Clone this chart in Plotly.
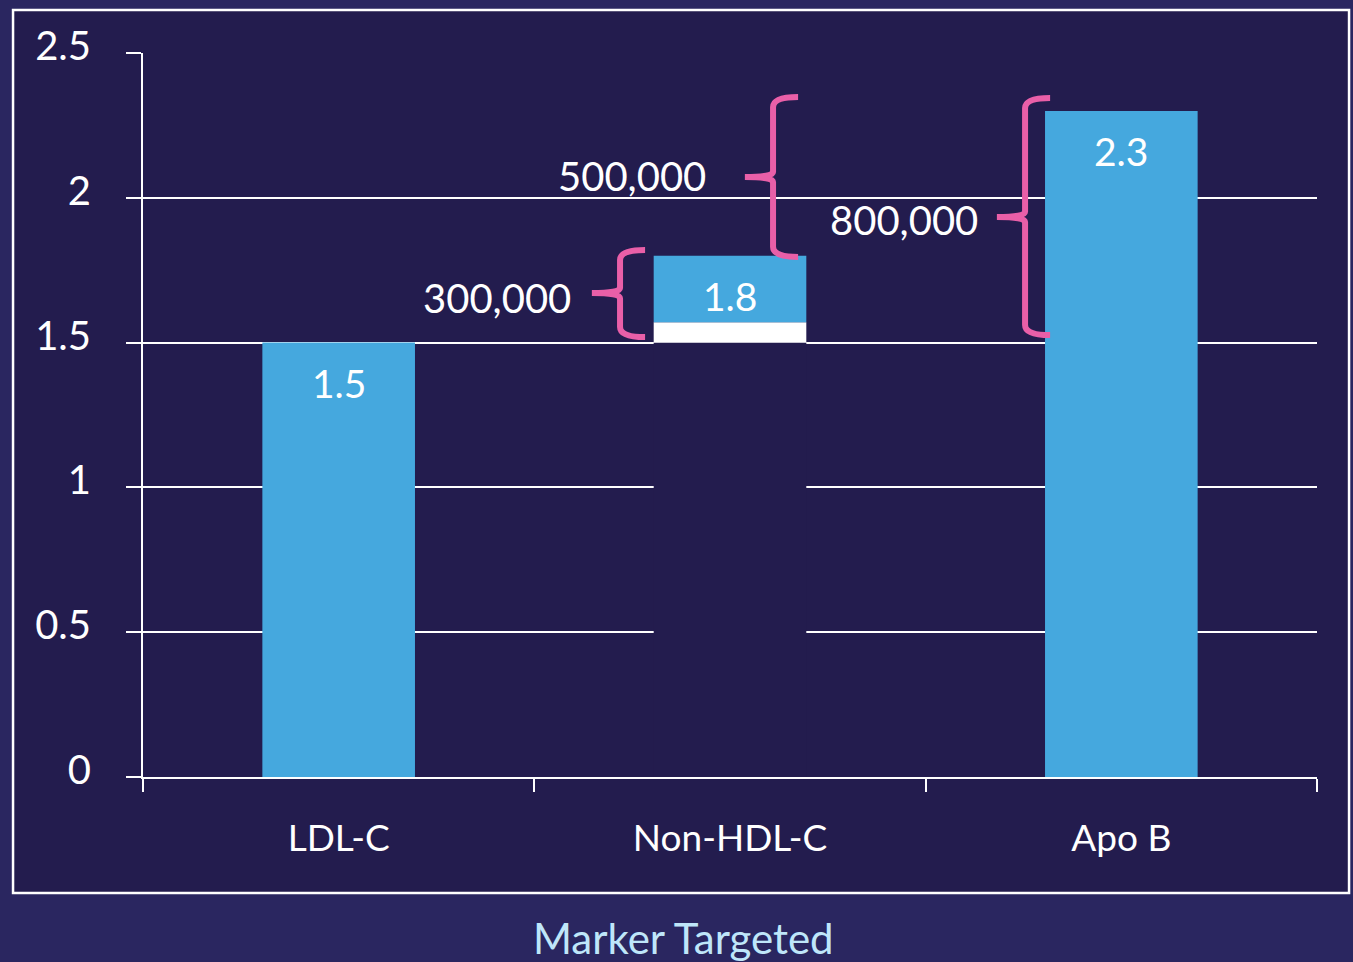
import plotly.graph_objects as go

# ---- data ----
categories = ["LDL-C", "Non-HDL-C", "Apo B"]
values = [1.5, 1.8, 2.3]
value_labels = ["1.5", "1.8", "2.3"]
# Non-HDL-C decomposition: hidden base, white segment, blue segment
nonhdl_base = 1.5
nonhdl_white = 0.07
y_ticks = [0, 0.5, 1, 1.5, 2, 2.5]
y_tick_labels = ["0", "0.5", "1", "1.5", "2", "2.5"]
x_title = "Marker Targeted"

# braces (x in category-index units, y in data units)
brace_labels = ["300,000", "500,000", "800,000"]
brace_xv = [0.719, 1.110, 1.754]
brace_xr = [0.783, 1.174, 1.818]
brace_xtip = [0.647, 1.038, 1.682]
brace_ytop = [1.820, 2.348, 2.345]
brace_ybot = [1.519, 1.796, 1.526]
brace_ymid = [1.671, 2.072, 1.934]
brace_label_x = [0.599, 0.944, 1.639]
brace_label_y = [1.654, 2.075, 1.923]

BG_IN = "#231c4e"
BG_OUT = "#2a2660"
BLUE = "#45a8de"
PINK = "#e95fa8"
FONT = "Lato"

fig = go.Figure()

# LDL-C and Apo B bars
fig.add_trace(go.Bar(
    x=[categories[0], categories[2]], y=[values[0], values[2]],
    marker=dict(color=BLUE, line=dict(width=0)), width=0.39,
    hoverinfo="skip", showlegend=False))
# Non-HDL-C: hidden base (covers gridlines)
fig.add_trace(go.Bar(
    x=[categories[1]], y=[nonhdl_base], base=[0],
    marker=dict(color=BG_IN, line=dict(width=0)), width=0.39,
    hoverinfo="skip", showlegend=False))
fig.add_trace(go.Bar(
    x=[categories[1]], y=[nonhdl_white], base=[nonhdl_base],
    marker=dict(color="white", line=dict(width=0)), width=0.39,
    hoverinfo="skip", showlegend=False))
fig.add_trace(go.Bar(
    x=[categories[1]], y=[values[1] - nonhdl_base - nonhdl_white],
    base=[nonhdl_base + nonhdl_white],
    marker=dict(color=BLUE, line=dict(width=0)), width=0.39,
    hoverinfo="skip", showlegend=False))

# invisible numeric overlay axis for braces
fig.add_trace(go.Scatter(x=[-0.5, 2.5], y=[0, 0], xaxis="x2", mode="lines",
                         line=dict(width=0), hoverinfo="skip", showlegend=False))

annotations = []
for c, v, t in zip(categories, values, value_labels):
    annotations.append(dict(x=c, y=v, xref="x", yref="y", text=t, showarrow=False,
                            yanchor="middle", yshift=-40,
                            font=dict(family=FONT, size=39, color="white")))

shapes = []
ry = 0.035
for i in range(3):
    xv, xr, xt = brace_xv[i], brace_xr[i], brace_xtip[i]
    yt, yb, ym = brace_ytop[i], brace_ybot[i], brace_ymid[i]
    path = (f"M {xr},{yt} Q {xv},{yt} {xv},{yt-ry} "
            f"L {xv},{ym+ry/2} Q {xv},{ym} {xt},{ym} "
            f"Q {xv},{ym} {xv},{ym-ry/2} "
            f"L {xv},{yb+ry} Q {xv},{yb} {xr},{yb}")
    shapes.append(dict(type="path", path=path, xref="x2", yref="y",
                       line=dict(color=PINK, width=6), layer="above"))
    annotations.append(dict(x=brace_label_x[i], y=brace_label_y[i], xref="x2", yref="y",
                            text=brace_labels[i], showarrow=False, xanchor="right",
                            yanchor="middle",
                            font=dict(family=FONT, size=40, color="white")))

# x-axis title
annotations.append(dict(x=0.46, y=-0.222, xref="paper", yref="paper", text=x_title,
                        showarrow=False, xanchor="center", yanchor="middle",
                        font=dict(family=FONT, size=42, color="#bfe6fa")))

# border rectangle with inner fill
shapes.append(dict(type="rect", xref="paper", yref="paper",
                   x0=-0.1107, x1=1.0273, y0=-0.1602, y1=1.0594,
                   line=dict(color="white", width=2.5), fillcolor=BG_IN, layer="below"))

fig.update_layout(
    width=1353, height=962,
    margin=dict(l=143, r=36, t=53, b=185),
    paper_bgcolor=BG_OUT, plot_bgcolor="rgba(0,0,0,0)",
    barmode="overlay",
    font=dict(family=FONT, color="white", size=37),
    xaxis=dict(type="category", categoryorder="array", categoryarray=categories,
               range=[-0.5, 2.5], tickson="boundaries", ticks="outside", ticklen=13,
               tickwidth=2, tickcolor="white", showline=True, linecolor="white",
               linewidth=2, showgrid=False, ticklabelstandoff=28,
               tickfont=dict(family=FONT, size=37, color="white")),
    xaxis2=dict(overlaying="x", range=[-0.5, 2.5], visible=False),
    yaxis=dict(range=[0, 2.5], tickvals=y_ticks, ticktext=y_tick_labels,
               ticks="outside", ticklen=15, tickwidth=2, tickcolor="white",
               showline=True, linecolor="white", linewidth=2,
               showgrid=True, gridcolor="white", gridwidth=2, zeroline=False,
               ticklabelstandoff=27, ticklabelshift=-7,
               tickfont=dict(family=FONT, size=40, color="white")),
    annotations=annotations,
    shapes=shapes,
)

fig.write_html("out.html")
